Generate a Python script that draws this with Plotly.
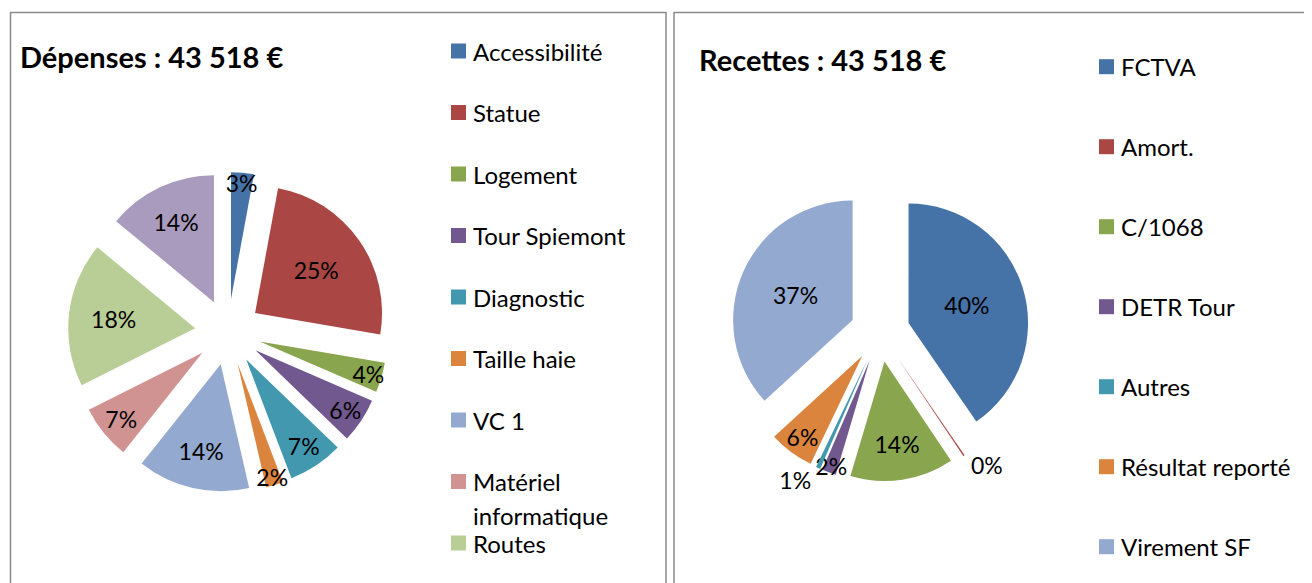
import plotly.graph_objects as go

# ---------------- data ----------------
dep_title = "Dépenses : 43 518 €"
dep_labels = ["Accessibilité", "Statue", "Logement", "Tour Spiemont", "Diagnostic",
              "Taille haie", "VC 1", "Matériel informatique", "Routes", "Divers"]
dep_values = [2.9, 24.8, 3.8, 5.7, 7.0, 2.2, 14.3, 6.9, 18.4, 14.0]
dep_legend_count = 9  # the last category is cut off in the original legend

rec_title = "Recettes : 43 518 €"
rec_labels = ["FCTVA", "Amort.", "C/1068", "DETR Tour", "Autres",
              "Résultat reporté", "Virement SF"]
rec_values = [40.4, 0.2, 14.0, 1.9, 0.6, 6.1, 36.8]

# ---------------- style ----------------
W, H = 1312, 583
OFF = 8          # default page margin of the html body
FW, FH = W - OFF, H - OFF
FONT = "Lato"
palette = ["#4572A7", "#AA4643", "#89A54E", "#71588F", "#4198AF",
           "#DB843D", "#93A9CF", "#D19392", "#B9CD96", "#A99BBD"]

def px(x):
    return (x - OFF) / FW

def py(y):
    return 1 - (y - OFF) / FH

def dom(cx, cy, half):
    return dict(x=[px(cx - half), px(cx + half)], y=[py(cy + half), py(cy - half)])

fig = go.Figure()

fig.add_trace(go.Pie(
    labels=dep_labels, values=dep_values, sort=False, direction="clockwise",
    rotation=0, pull=0.26, marker=dict(colors=palette[:len(dep_labels)], line=dict(width=0)),
    texttemplate="%{percent:.0%}", textposition="inside",
    insidetextorientation="horizontal",
    textfont=dict(family=FONT, size=23, color="black"),
    domain=dom(228, 332, 160), showlegend=False, hoverinfo="label+percent",
))

rec_pos = ["inside", "outside", "inside", "inside", "outside", "inside", "inside"]
fig.add_trace(go.Pie(
    labels=rec_labels, values=rec_values, sort=False, direction="clockwise",
    rotation=0, pull=0.25, marker=dict(colors=palette[:len(rec_labels)], line=dict(width=0)),
    texttemplate="%{percent:.0%}", textposition=rec_pos,
    insidetextorientation="horizontal",
    textfont=dict(family=FONT, size=23, color="black"),
    domain=dom(880, 332, 149.4), showlegend=False, hoverinfo="label+percent",
))

shapes = []
annotations = []

# panel borders
border = dict(color="#8A8A8A", width=1.5)
shapes.append(dict(type="rect", xref="paper", yref="paper",
                   x0=px(10.5), x1=px(666), y0=-0.05, y1=py(12.5), line=border))
shapes.append(dict(type="rect", xref="paper", yref="paper",
                   x0=px(674), x1=1.05, y0=-0.05, y1=py(12.5), line=border))

# titles
annotations.append(dict(text="<b>%s</b>" % dep_title, x=px(18), y=py(56), xref="paper", yref="paper",
                        xanchor="left", yanchor="middle", showarrow=False,
                        font=dict(family=FONT, size=29, color="black")))
annotations.append(dict(text="<b>%s</b>" % rec_title, x=px(697), y=py(59), xref="paper", yref="paper",
                        xanchor="left", yanchor="middle", showarrow=False,
                        font=dict(family=FONT, size=29, color="black")))

def legend(labels, colors, x_sq, y0, step, max_chars=None):
    for i, (lab, col) in enumerate(zip(labels, colors)):
        yc = y0 + i * step
        shapes.append(dict(type="rect", xref="paper", yref="paper",
                           x0=px(x_sq), x1=px(x_sq + 15), y0=py(yc + 7.5), y1=py(yc - 7.5),
                           fillcolor=col, line=dict(width=0)))
        lines = [lab]
        if max_chars and len(lab) > max_chars and " " in lab:
            lines = lab.split(" ", 1)
        for j, ln in enumerate(lines):
            annotations.append(dict(text=ln, x=px(x_sq + 20), y=py(yc + j * 33.5),
                                    xref="paper", yref="paper", xanchor="left", yanchor="middle",
                                    showarrow=False,
                                    font=dict(family=FONT, size=24, color="black")))

legend(dep_labels[:dep_legend_count], palette, 451, 51, 61.5, max_chars=15)
legend(rec_labels, palette, 1099, 66.7, 80)

fig.update_layout(
    width=FW, height=FH, margin=dict(l=0, r=0, t=0, b=0),
    paper_bgcolor="white", plot_bgcolor="white",
    shapes=shapes, annotations=annotations,
    uniformtext=dict(minsize=23, mode="show"),
    font=dict(family=FONT),
)

fig.write_html("out.html")
